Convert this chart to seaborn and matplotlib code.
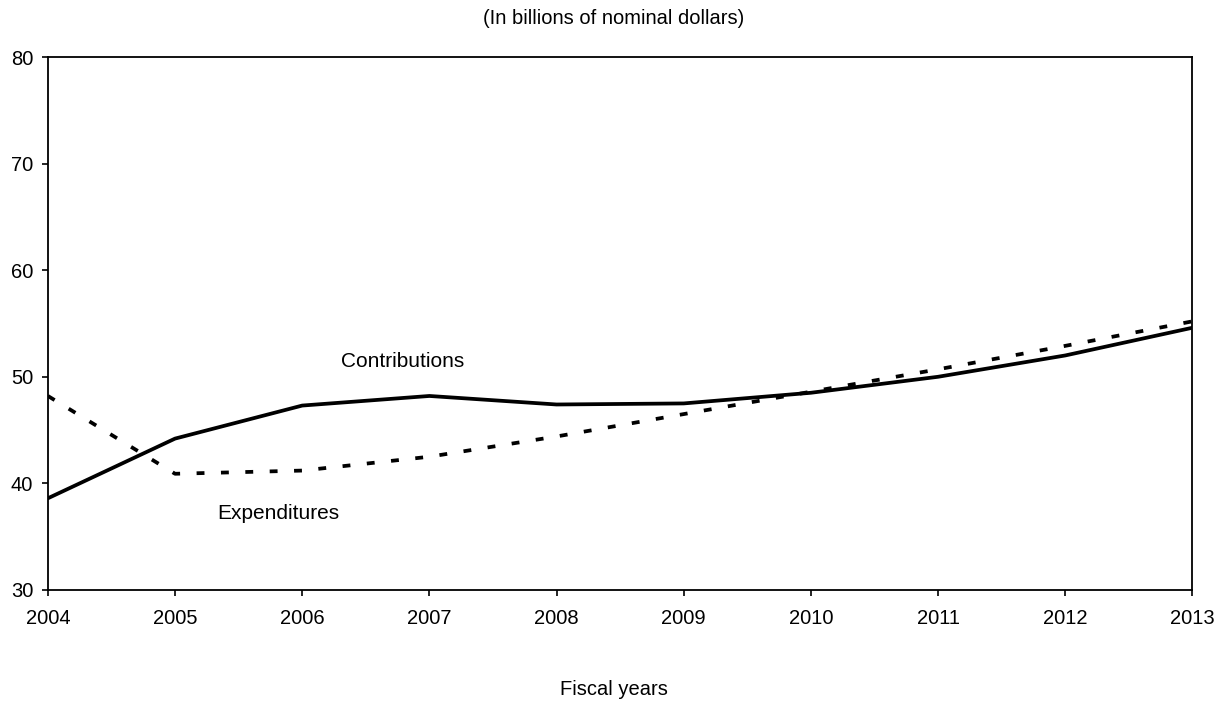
import pandas as pd
import matplotlib
matplotlib.use('Agg')
import matplotlib.pyplot as plt
import seaborn as sns

years = [2004, 2005, 2006, 2007, 2008, 2009, 2010, 2011, 2012, 2013]
contributions = [38.6, 44.2, 47.3, 48.2, 47.4, 47.5, 48.5, 50.0, 52.0, 54.6]
expenditures = [48.2, 40.9, 41.2, 42.5, 44.4, 46.5, 48.6, 50.7, 52.9, 55.2]

df = pd.DataFrame({'year': years, 'Contributions': contributions, 'Expenditures': expenditures})

sns.set_style('white')
plt.rcParams['font.family'] = ['Liberation Sans', 'DejaVu Sans']
plt.rcParams['text.color'] = 'black'

fig = plt.figure(figsize=(12.28, 7.04), dpi=100)
ax = fig.add_axes([0.039, 0.162, 0.932, 0.757])

sns.lineplot(data=df, x='year', y='Contributions', color='black', lw=2.7, ax=ax)
sns.lineplot(data=df, x='year', y='Expenditures', color='black', lw=2.7, ax=ax,
             linestyle=(0, (2.1, 4.4)))

ax.set_xlim(2004, 2013)
ax.set_ylim(30, 80)
ax.set_xticks(years)
ax.set_yticks([30, 40, 50, 60, 70, 80])
ax.tick_params(axis='both', labelsize=14.5, direction='out', length=4.5, width=1.2,
               bottom=True, left=True, colors='black')
ax.tick_params(axis='x', pad=9)
ax.tick_params(axis='y', pad=6)
for s in ax.spines.values():
    s.set_color('black')
    s.set_linewidth(1.3)
ax.set_xlabel('')
ax.set_ylabel('')

ax.text(2006.79, 51.4, 'Contributions', fontsize=15, color='black', ha='center', va='center')
ax.text(2005.81, 37.15, 'Expenditures', fontsize=15, color='black', ha='center', va='center')

fig.text(0.5, 0.974, '(In billions of nominal dollars)', fontsize=14.5, color='black',
         ha='center', va='center')
fig.text(0.5, 0.02, 'Fiscal years', fontsize=14.5, color='black', ha='center', va='center')

plt.savefig('out.png', dpi=100)
